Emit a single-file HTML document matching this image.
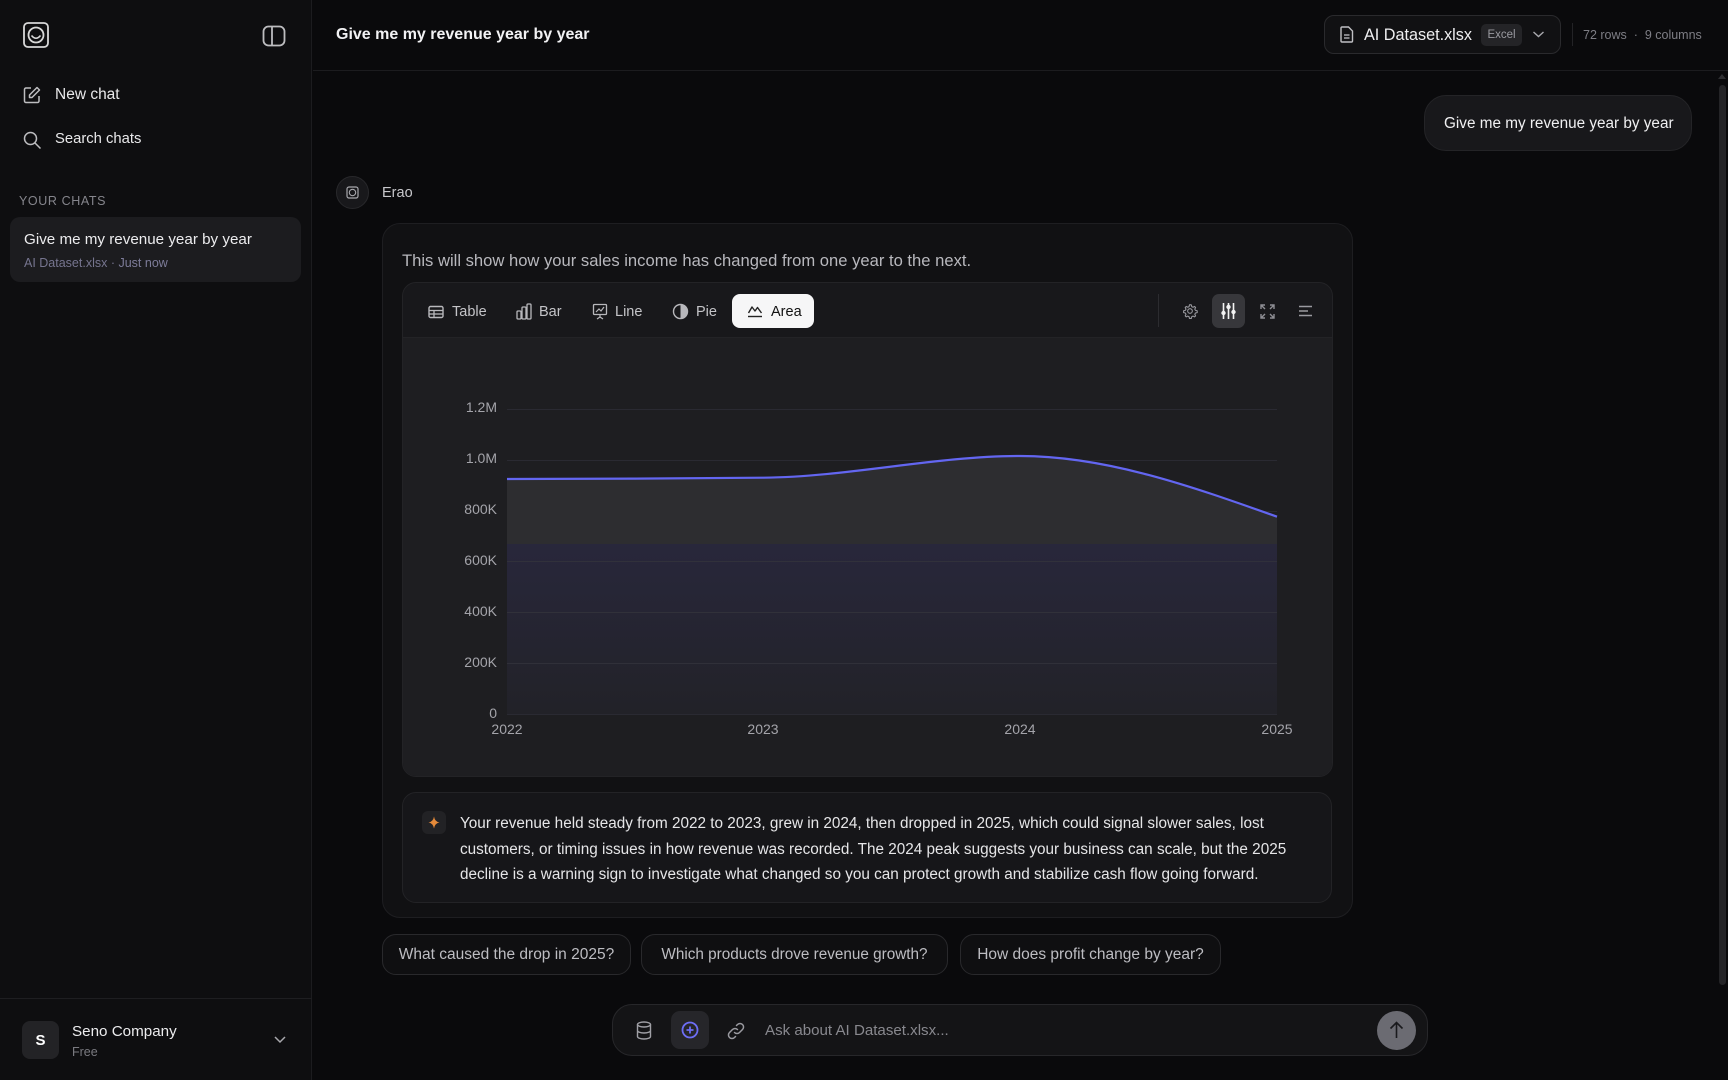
<!DOCTYPE html>
<html><head><meta charset="utf-8">
<style>
*{margin:0;padding:0;box-sizing:border-box}
body{width:1728px;height:1080px;background:#0a0a0c;font-family:"Liberation Sans",Arial,sans-serif;color:#e8e8ea;position:relative;overflow:hidden}
.abs{position:absolute}
.t{position:absolute;white-space:nowrap;line-height:1}
</style></head><body>

<!-- Sidebar -->
<div class="abs" style="left:0;top:0;width:312px;height:1080px;background:#0e0e10;border-right:1px solid #1c1c1f"></div>
<svg class="abs" style="left:22px;top:21px" width="28" height="28" viewBox="0 0 28 28">
<rect x="2" y="2" width="24" height="24" rx="4" fill="none" stroke="#d8d8d8" stroke-width="1.8"/>
<circle cx="14" cy="14" r="7.5" fill="none" stroke="#d8d8d8" stroke-width="1.8"/>
<path d="M9.5 14.5 Q14 20 18.5 14.5" fill="none" stroke="#d8d8d8" stroke-width="1.6"/>
</svg>
<svg class="abs" style="left:262px;top:25px" width="24" height="22" viewBox="0 0 24 22">
<rect x="1.5" y="1.5" width="21" height="19" rx="5" fill="none" stroke="#bdbdc0" stroke-width="1.8"/>
<line x1="10" y1="2" x2="10" y2="20" stroke="#bdbdc0" stroke-width="1.8"/>
</svg>
<svg class="abs" style="left:23px;top:86px" width="18" height="18" viewBox="0 0 18 18">
<path d="M8 2H3a1.5 1.5 0 0 0-1.5 1.5v11.5A1.5 1.5 0 0 0 3 16.5h11.5A1.5 1.5 0 0 0 16 15V10" fill="none" stroke="#bdbdc0" stroke-width="1.5"/>
<path d="M14 1.5l2.5 2.5-7.5 7.5H6.5V9z" fill="none" stroke="#bdbdc0" stroke-width="1.5" stroke-linejoin="round"/>
</svg>
<div class="t" style="left:55px;top:87px;font-size:15.5px;color:#e8e8ea">New chat</div>
<svg class="abs" style="left:23px;top:131px" width="19" height="19" viewBox="0 0 19 19">
<circle cx="7.5" cy="7.5" r="6" fill="none" stroke="#bdbdc0" stroke-width="1.5"/>
<line x1="12" y1="12" x2="17.5" y2="17.5" stroke="#bdbdc0" stroke-width="1.5"/>
</svg>
<div class="t" style="left:55px;top:132px;font-size:14.8px;color:#e8e8ea">Search chats</div>
<div class="t" style="left:19px;top:195px;font-size:12.5px;color:#85858c;letter-spacing:0.6px">YOUR CHATS</div>
<div class="abs" style="left:10px;top:217px;width:291px;height:65px;border-radius:10px;background:#1c1c1f"></div>
<div class="t" style="left:24px;top:232px;font-size:15.2px;color:#ececee">Give me my revenue year by year</div>
<div class="t" style="left:24px;top:257px;font-size:12.5px;color:#76758f">AI Dataset.xlsx · <span style="color:#7d7c99">Just now</span></div>

<div class="abs" style="left:0;top:998px;width:312px;height:1px;background:#1e1e21"></div>
<div class="abs" style="left:22px;top:1021px;width:37px;height:38px;border-radius:8px;background:#232326"></div>
<div class="t" style="left:22px;top:1033px;width:37px;text-align:center;font-size:15px;font-weight:bold;color:#fff">S</div>
<div class="t" style="left:72px;top:1024px;font-size:15.2px;color:#ececee">Seno Company</div>
<div class="t" style="left:72px;top:1046px;font-size:12.5px;color:#7a7a80">Free</div>
<svg class="abs" style="left:273px;top:1034px" width="14" height="10" viewBox="0 0 14 10"><path d="M2 3l5 5 5-5" fill="none" stroke="#a8a8ad" stroke-width="1.5"/></svg>

<!-- Header -->
<div class="abs" style="left:313px;top:70px;width:1415px;height:1px;background:#1c1c1f"></div>
<div class="t" style="left:336px;top:27px;font-size:16px;font-weight:bold;color:#f2f2f4">Give me my revenue year by year</div>
<div class="abs" style="left:1324px;top:15px;width:237px;height:39px;border-radius:10px;background:#111113;border:1px solid #2a2a2d"></div>
<svg class="abs" style="left:1340px;top:26px" width="14" height="17" viewBox="0 0 14 17">
<path d="M2 1h6.5L12.5 5v10a1 1 0 0 1-1 1H2a1 1 0 0 1-1-1V2a1 1 0 0 1 1-1z" fill="none" stroke="#c0c0c4" stroke-width="1.4"/>
<line x1="4" y1="9" x2="9.5" y2="9" stroke="#c0c0c4" stroke-width="1.3"/><line x1="4" y1="12" x2="9.5" y2="12" stroke="#c0c0c4" stroke-width="1.3"/>
</svg>
<div class="t" style="left:1364px;top:27px;font-size:16.2px;color:#eeeef0">AI Dataset.xlsx</div>
<div class="abs" style="left:1481px;top:24px;width:41px;height:22px;border-radius:5px;background:#242427"></div>
<div class="t" style="left:1481px;top:30px;width:41px;text-align:center;font-size:11.5px;color:#9a9aa0">Excel</div>
<svg class="abs" style="left:1532px;top:30px" width="13" height="9" viewBox="0 0 13 9"><path d="M1.5 2l5 4.5 5-4.5" fill="none" stroke="#a8a8ad" stroke-width="1.4"/></svg>
<div class="abs" style="left:1572px;top:23px;width:1px;height:23px;background:#232326"></div>
<div class="t" style="left:1583px;top:29px;font-size:12.5px;color:#7e7e85">72 rows &nbsp;·&nbsp; 9 columns</div>

<!-- scrollbar -->
<svg class="abs" style="left:1717px;top:72px" width="10" height="8" viewBox="0 0 10 8"><path d="M1 7L5 2 9 7z" fill="#2e2e31"/></svg>
<div class="abs" style="left:1719px;top:85px;width:7px;height:900px;border-radius:4px;background:#242427"></div>

<!-- User bubble -->
<div class="abs" style="left:1424px;top:95px;width:268px;height:56px;border-radius:22px;background:#18181b;border:1px solid #242427"></div>
<div class="t" style="left:1444px;top:116px;font-size:15.3px;color:#f0f0f2">Give me my revenue year by year</div>

<!-- Erao -->
<div class="abs" style="left:336px;top:176px;width:33px;height:33px;border-radius:50%;background:#18181b;border:1px solid #28282b"></div>
<svg class="abs" style="left:346px;top:186px" width="13" height="13" viewBox="0 0 13 13">
<rect x="1" y="1" width="11" height="11" rx="2" fill="none" stroke="#a8a8ad" stroke-width="1.2"/>
<circle cx="6.5" cy="6.5" r="3.2" fill="none" stroke="#a8a8ad" stroke-width="1.1"/>
</svg>
<div class="t" style="left:382px;top:186px;font-size:14.5px;color:#c8c8cc">Erao</div>

<!-- Outer card -->
<div class="abs" style="left:382px;top:223px;width:971px;height:695px;border-radius:18px;background:#111113;border:1px solid #1e1e21"></div>
<div class="t" style="left:402px;top:253px;font-size:16.6px;color:#b8b8bd">This will show how your sales income has changed from one year to the next.</div>

<!-- Inner chart card -->
<div class="abs" style="left:402px;top:282px;width:931px;height:495px;border-radius:14px;background:#18181b;border:1px solid #232326;overflow:hidden">
  <div class="abs" style="left:0;top:54px;width:931px;height:441px;background:#1e1e21;border-top:1px solid #232326"></div>
</div>

<!-- Tabs -->
<svg class="abs" style="left:428px;top:305px" width="16" height="14" viewBox="0 0 16 14">
<rect x="1" y="1.5" width="14" height="11" rx="1.5" fill="none" stroke="#b8b8bc" stroke-width="1.4"/>
<line x1="1" y1="5.5" x2="15" y2="5.5" stroke="#b8b8bc" stroke-width="1.3"/><line x1="1" y1="9" x2="15" y2="9" stroke="#b8b8bc" stroke-width="1.3"/><line x1="6" y1="5.5" x2="6" y2="12.5" stroke="#b8b8bc" stroke-width="1.3"/>
</svg>
<div class="t" style="left:452px;top:305px;font-size:14.5px;color:#c4c4c8">Table</div>
<svg class="abs" style="left:516px;top:303px" width="16" height="17" viewBox="0 0 16 17">
<rect x="1" y="8" width="4" height="8" rx="1" fill="none" stroke="#b8b8bc" stroke-width="1.3"/>
<rect x="6" y="4" width="4" height="12" rx="1" fill="none" stroke="#b8b8bc" stroke-width="1.3"/>
<rect x="11" y="1" width="4" height="15" rx="1" fill="none" stroke="#b8b8bc" stroke-width="1.3"/>
</svg>
<div class="t" style="left:539px;top:305px;font-size:14.5px;color:#c4c4c8">Bar</div>
<svg class="abs" style="left:592px;top:303px" width="16" height="17" viewBox="0 0 16 17">
<rect x="1.5" y="1.5" width="13" height="10" rx="1" fill="none" stroke="#b8b8bc" stroke-width="1.3"/>
<path d="M4 9l3-3 2 2 3-4" fill="none" stroke="#b8b8bc" stroke-width="1.2"/>
<path d="M8 11.5v3M5 16l3-2 3 2" fill="none" stroke="#b8b8bc" stroke-width="1.2"/>
</svg>
<div class="t" style="left:615px;top:305px;font-size:14.5px;color:#c4c4c8">Line</div>
<svg class="abs" style="left:672px;top:303px" width="17" height="17" viewBox="0 0 17 17">
<circle cx="8.5" cy="8.5" r="7" fill="none" stroke="#b8b8bc" stroke-width="1.4"/>
<path d="M8.5 1.5A7 7 0 0 1 8.5 15.5z" fill="#b8b8bc"/>
</svg>
<div class="t" style="left:696px;top:305px;font-size:14.5px;color:#c4c4c8">Pie</div>
<div class="abs" style="left:732px;top:294px;width:82px;height:34px;border-radius:8px;background:#f6f6f7"></div>
<svg class="abs" style="left:747px;top:304px" width="16" height="14" viewBox="0 0 16 14">
<path d="M1.5 9l3.5-6 3 4 2.5-3.5L14.5 9" fill="none" stroke="#222" stroke-width="1.4" stroke-linejoin="round"/>
<line x1="1" y1="12.5" x2="15" y2="12.5" stroke="#222" stroke-width="1.4"/>
</svg>
<div class="t" style="left:771px;top:305px;font-size:14.5px;color:#111">Area</div>

<div class="abs" style="left:1158px;top:294px;width:1px;height:33px;background:#2c2c30"></div>
<svg class="abs" style="left:1182px;top:303px" width="16" height="16" viewBox="0 0 24 24">
<path d="M12 2.5l2 .3.6 2.6 1.9 1 2.4-1.2 1.5 1.5-1.2 2.4 1 1.9 2.6.6v2.8l-2.6.6-1 1.900 1.2 2.4-1.5 1.5-2.4-1.2-1.9 1-.6 2.6h-2.8l-.6-2.6-1.9-1-2.4 1.2-1.5-1.5 1.2-2.4-1-1.9-2.6-.6v-2.8l2.6-.6 1-1.9-1.2-2.4 1.5-1.5 2.4 1.2 1.9-1 .6-2.6z" fill="none" stroke="#9a9aa0" stroke-width="1.6" stroke-linejoin="round"/>
<circle cx="12" cy="12" r="3.5" fill="none" stroke="#9a9aa0" stroke-width="1.6"/>
</svg>
<div class="abs" style="left:1212px;top:294px;width:33px;height:34px;border-radius:7px;background:#37373b"></div>
<svg class="abs" style="left:1220px;top:302px" width="17" height="18" viewBox="0 0 17 18">
<g stroke="#f4f4f4" stroke-width="1.6"><line x1="3.5" y1="1" x2="3.5" y2="17"/><line x1="8.5" y1="1" x2="8.5" y2="17"/><line x1="13.5" y1="1" x2="13.5" y2="17"/></g>
<g fill="#f4f4f4"><circle cx="3.5" cy="11" r="2.2"/><circle cx="8.5" cy="5" r="2.2"/><circle cx="13.5" cy="10" r="2.2"/></g>
</svg>
<svg class="abs" style="left:1260px;top:304px" width="15" height="15" viewBox="0 0 15 15">
<g fill="none" stroke="#8e8e94" stroke-width="1.4"><path d="M1 5V1h4M1 1l4 4M14 5V1h-4M14 1l-4 4M1 10v4h4M1 14l4-4M14 10v4h-4M14 14l-4-4"/></g>
</svg>
<svg class="abs" style="left:1298px;top:305px" width="15" height="12" viewBox="0 0 15 12">
<g stroke="#9a9aa0" stroke-width="1.5"><line x1="1" y1="1.5" x2="14" y2="1.5"/><line x1="1" y1="6" x2="10" y2="6"/><line x1="1" y1="10.5" x2="14" y2="10.5"/></g>
</svg>

<!-- Chart -->
<svg class="abs" style="left:0;top:0" width="1728" height="1080" viewBox="0 0 1728 1080">
<defs>
<clipPath id="ac"><path d="M507,479 C592.6,478.8 678.1,478.6 763.7,477.7 C849.2,476.8 934.8,456 1020.3,456 C1105.9,456 1191.4,486.3 1277,516.7 L1277,714 L507,714 Z"/></clipPath>
<linearGradient id="lg" x1="0" y1="0" x2="0" y2="1"><stop offset="0" stop-color="#28273b"/><stop offset="1" stop-color="#222228"/></linearGradient>
</defs>
<g stroke="#2a2a32" stroke-width="1">
<line x1="507" y1="409.5" x2="1277" y2="409.5"/>
<line x1="507" y1="460.5" x2="1277" y2="460.5"/>
<line x1="507" y1="511.5" x2="1277" y2="511.5"/>
<line x1="507" y1="561.5" x2="1277" y2="561.5"/>
<line x1="507" y1="612.5" x2="1277" y2="612.5"/>
<line x1="507" y1="663.5" x2="1277" y2="663.5"/>
<line x1="507" y1="714.5" x2="1277" y2="714.5"/>
</g>
<g clip-path="url(#ac)">
<rect x="507" y="440" width="770" height="104" fill="#2d2d30"/>
<rect x="507" y="544" width="770" height="171" fill="url(#lg)"/>
</g>
<g stroke="#34343c" stroke-width="1" clip-path="url(#ac)" opacity="0.8">
<line x1="507" y1="561.5" x2="1277" y2="561.5"/>
<line x1="507" y1="612.5" x2="1277" y2="612.5"/>
<line x1="507" y1="663.5" x2="1277" y2="663.5"/>
</g>
<path d="M507,479 C592.6,478.8 678.1,478.6 763.7,477.7 C849.2,476.8 934.8,456 1020.3,456 C1105.9,456 1191.4,486.3 1277,516.7" fill="none" stroke="#6366f1" stroke-width="2.2"/>
<g font-family="Liberation Sans, Arial, sans-serif" font-size="14" fill="#a4a4aa" text-anchor="end">
<text x="497" y="412">1.2M</text>
<text x="497" y="463">1.0M</text>
<text x="497" y="514">800K</text>
<text x="497" y="565">600K</text>
<text x="497" y="616">400K</text>
<text x="497" y="667">200K</text>
<text x="497" y="718">0</text>
</g>
<g font-family="Liberation Sans, Arial, sans-serif" font-size="14" fill="#a4a4aa" text-anchor="middle">
<text x="507" y="734">2022</text>
<text x="763" y="734">2023</text>
<text x="1020" y="734">2024</text>
<text x="1277" y="734">2025</text>
</g>
</svg>

<!-- Insight -->
<div class="abs" style="left:402px;top:792px;width:930px;height:111px;border-radius:14px;background:#161619;border:1px solid #232326"></div>
<div class="abs" style="left:422px;top:811px;width:24px;height:23px;border-radius:6px;background:#222225"></div>
<svg class="abs" style="left:427px;top:815px" width="14" height="15" viewBox="0 0 14 15"><path d="M7 1.5Q7.8 6.7 12.5 7.5Q7.8 8.3 7 13.5Q6.2 8.3 1.5 7.5Q6.2 6.7 7 1.5z" fill="#e58a3a"/></svg>
<div class="abs" style="left:460px;top:811px;font-size:15.3px;line-height:25.5px;color:#e6e6e8;white-space:nowrap">
Your revenue held steady from 2022 to 2023, grew in 2024, then dropped in 2025, which could signal slower sales, lost<br>
customers, or timing issues in how revenue was recorded. The 2024 peak suggests your business can scale, but the 2025<br>
decline is a warning sign to investigate what changed so you can protect growth and stabilize cash flow going forward.
</div>

<!-- Suggestions -->
<div class="abs" style="left:382px;top:934px;width:249px;height:41px;border-radius:14px;background:#0f0f11;border:1px solid #29292c"></div>
<div class="t" style="left:382px;top:947px;width:249px;text-align:center;font-size:15.5px;color:#bdbdc2">What caused the drop in 2025?</div>
<div class="abs" style="left:641px;top:934px;width:307px;height:41px;border-radius:14px;background:#0f0f11;border:1px solid #29292c"></div>
<div class="t" style="left:641px;top:947px;width:307px;text-align:center;font-size:15.3px;color:#bdbdc2">Which products drove revenue growth?</div>
<div class="abs" style="left:960px;top:934px;width:261px;height:41px;border-radius:14px;background:#0f0f11;border:1px solid #29292c"></div>
<div class="t" style="left:960px;top:947px;width:261px;text-align:center;font-size:15.5px;color:#bdbdc2">How does profit change by year?</div>

<!-- Input -->
<div class="abs" style="left:612px;top:1004px;width:816px;height:52px;border-radius:20px;background:#141416;border:1px solid #27272a"></div>
<svg class="abs" style="left:636px;top:1021px" width="16" height="19" viewBox="0 0 16 19">
<ellipse cx="8" cy="3.5" rx="6.5" ry="2.5" fill="none" stroke="#a0a0a6" stroke-width="1.4"/>
<path d="M1.5 3.5v12c0 1.4 2.9 2.5 6.5 2.5s6.5-1.1 6.5-2.5v-12M1.5 9.5c0 1.4 2.9 2.5 6.5 2.5s6.5-1.1 6.5-2.5" fill="none" stroke="#a0a0a6" stroke-width="1.4"/>
</svg>
<div class="abs" style="left:671px;top:1011px;width:38px;height:38px;border-radius:9px;background:#26262a"></div>
<svg class="abs" style="left:681px;top:1021px" width="18" height="18" viewBox="0 0 18 18">
<circle cx="9" cy="9" r="7.5" fill="none" stroke="#6d6ef5" stroke-width="1.8"/>
<path d="M9 5.5v7M5.5 9h7" stroke="#6d6ef5" stroke-width="1.8"/>
</svg>
<svg class="abs" style="left:727px;top:1022px" width="18" height="18" viewBox="0 0 18 18">
<g fill="none" stroke="#9a9aa0" stroke-width="1.5" stroke-linecap="round"><path d="M7.5 10.5a3.5 3.5 0 0 0 5 0l3-3a3.5 3.5 0 0 0-5-5l-1 1"/><path d="M10.5 7.5a3.5 3.5 0 0 0-5 0l-3 3a3.5 3.5 0 0 0 5 5l1-1"/></g>
</svg>
<div class="t" style="left:765px;top:1023px;font-size:15.1px;color:#88888e">Ask about AI Dataset.xlsx...</div>
<div class="abs" style="left:1377px;top:1011px;width:39px;height:39px;border-radius:50%;background:#6b6b72"></div>
<svg class="abs" style="left:1388px;top:1020px" width="17" height="20" viewBox="0 0 17 20">
<path d="M8.5 18V3M2.5 8.5l6-6 6 6" fill="none" stroke="#1a1a1d" stroke-width="1.6"/>
</svg>

</body></html>
